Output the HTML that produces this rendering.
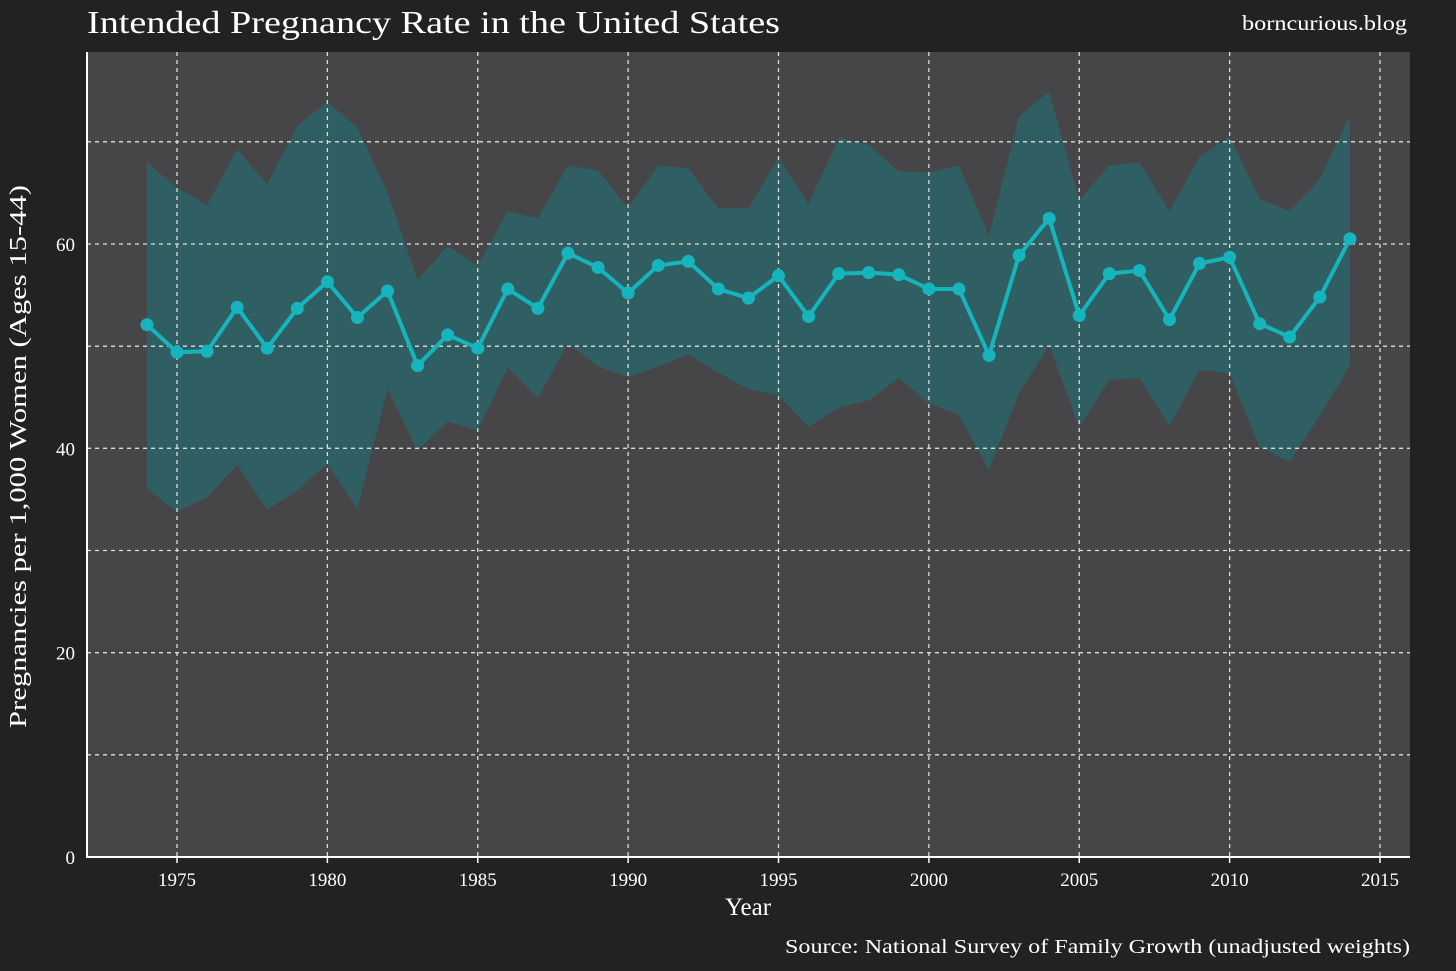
<!DOCTYPE html>
<html><head><meta charset="utf-8"><style>
html,body{margin:0;padding:0;background:#212224;overflow:hidden;}
svg{display:block;}
svg text{font-family:"Liberation Serif",serif;fill:#fff;}
</style></head><body>
<svg id="chart" width="1456" height="971" xmlns="http://www.w3.org/2000/svg">
<rect width="1456" height="971" fill="#212224"/>
<text x="87" y="33" font-size="32" textLength="693" lengthAdjust="spacingAndGlyphs">Intended Pregnancy Rate in the United States</text>
<text x="1242" y="30" font-size="21" textLength="165" lengthAdjust="spacingAndGlyphs">borncurious.blog</text>
<text x="785" y="953" font-size="20" textLength="625" lengthAdjust="spacingAndGlyphs">Source: National Survey of Family Growth (unadjusted weights)</text>
<text x="748" y="915" font-size="25" text-anchor="middle">Year</text>
<text transform="translate(26,728) rotate(-90)" font-size="24" textLength="543" lengthAdjust="spacingAndGlyphs">Pregnancies per 1,000 Women (Ages 15-44)</text>
<g id="plot"></g>
</svg>
<script>
const years=[1974,1975,1976,1977,1978,1979,1980,1981,1982,1983,1984,1985,1986,1987,1988,1989,1990,1991,1992,1993,1994,1995,1996,1997,1998,1999,2000,2001,2002,2003,2004,2005,2006,2007,2008,2009,2010,2011,2012,2013,2014];
const rate=[52.1,49.4,49.5,53.8,49.8,53.7,56.3,52.8,55.4,48.1,51.1,49.8,55.6,53.7,59.1,57.7,55.2,57.9,58.3,55.6,54.7,56.9,52.9,57.1,57.2,57.0,55.6,55.6,49.1,58.9,62.5,53.0,57.1,57.4,52.6,58.1,58.7,52.2,50.9,54.8,60.5];
const upper=[68.0,65.5,63.8,69.3,65.8,71.6,73.9,71.4,65.0,56.5,59.8,57.9,63.2,62.5,67.7,67.2,63.5,67.7,67.4,63.5,63.5,68.4,63.9,70.4,69.7,67.1,67.0,67.7,60.8,72.5,74.9,64.3,67.7,68.0,63.2,68.5,70.5,64.4,63.2,66.4,72.6];
const lower=[36.1,33.8,35.2,38.4,34.0,35.9,38.5,34.1,45.8,39.8,42.6,41.8,47.9,44.9,50.3,48.0,47.0,48.0,49.2,47.4,45.8,45.2,42.1,44.0,44.7,46.9,44.4,43.3,37.9,45.4,50.1,42.1,46.7,46.9,42.2,47.7,47.3,40.1,38.7,43.2,48.1];
const xTicks=[1975,1980,1985,1990,1995,2000,2005,2010,2015];
const yGrid=[10,20,30,40,50,60,70];
const yLabels=[0,20,40,60];

const L=87,R=1410,T=52,B=857;
const x=v=>177+(v-1975)*(1380-177)/40;
const y=v=>B-v*(B-244)/60;
const NS="http://www.w3.org/2000/svg";
const g=document.getElementById('plot');
function mk(t,a){const e=document.createElementNS(NS,t);for(const k in a)e.setAttribute(k,a[k]);g.appendChild(e);return e;}
const bg=mk('rect',{x:L,y:T,width:R-L,height:B-T,fill:'#464648'});


let d='M'+years.map((yr,i)=>x(yr)+','+y(upper[i])).join('L');
for(let i=years.length-1;i>=0;i--)d+='L'+x(years[i])+','+y(lower[i]);
const band=mk('path',{d:d+'Z',fill:'#2f5f62'});


xTicks.forEach(t=>{
 const l=mk('line',{x1:x(t),x2:x(t),y1:T,y2:B,stroke:'#dcdcdc','stroke-width':1.3,'stroke-dasharray':'4,4'});
 
 
 const tk=mk('line',{x1:x(t),x2:x(t),y1:B,y2:B+6,stroke:'#fff','stroke-width':1.5});
 
 
 const tx=mk('text',{x:x(t),y:B+29,'font-size':19,'text-anchor':'middle'});tx.textContent=t;
 
 
});
yGrid.forEach(v=>{
 const l=mk('line',{x1:L,x2:R,y1:y(v),y2:y(v),stroke:'#dcdcdc','stroke-width':1.3,'stroke-dasharray':'4,4'});
 
 
});
yLabels.forEach(v=>{
 const tx=mk('text',{x:L-12,y:y(v)+7,'font-size':19,'text-anchor':'end'});tx.textContent=v;
 
 
});
const ln=mk('polyline',{points:years.map((yr,i)=>x(yr)+','+y(rate[i])).join(' '),fill:'none',stroke:'#16b4bc','stroke-width':4,'stroke-linejoin':'round'});


years.forEach((yr,i)=>{
 const c=mk('circle',{cx:x(yr),cy:y(rate[i]),r:6.5,fill:'#16b4bc'});
 
 
});
const ax=mk('path',{d:`M${L},${T}V${B}H${R}`,fill:'none',stroke:'#fff','stroke-width':2});


</script>
</body></html>
